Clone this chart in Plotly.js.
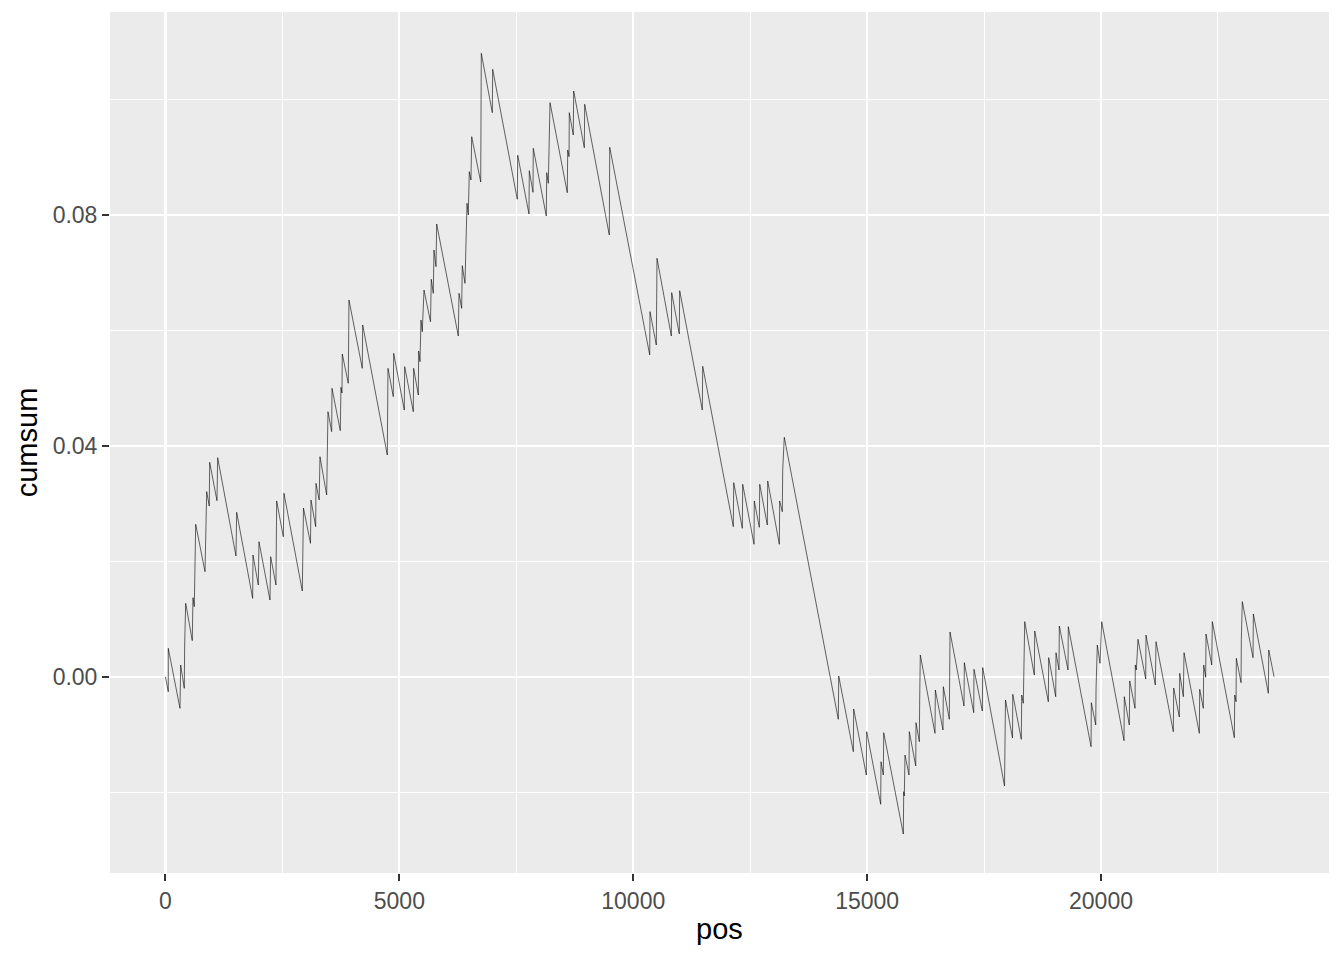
<!DOCTYPE html>
<html>
<head>
<meta charset="utf-8">
<script src="https://cdn.plot.ly/plotly-3.0.1.min.js"></script>
<style>html,body{margin:0;padding:0;background:#fff;}#chart{width:1344px;height:960px;}</style>
</head>
<body>
<div id="chart"></div>
<script>
const pos = [0,60,60,310,325,402,410,432,573,588,616,631,646,845,859,881,936,945,1101,1116,
1507,1522,1864,1871,1984,1999,2234,2249,2362,2369,2377,2519,2533,2925,2940,2950,3100,3111,3211,3218,
3286,3303,3446,3453,3474,3553,3560,3737,3752,3773,3780,3908,3917,3923,4207,4216,4742,4750,4757,4870,
4879,5105,5114,5298,5306,5405,5413,5441,5462,5490,5527,5665,5683,5725,5740,5783,5798,6260,6275,6332,
6345,6403,6424,6446,6474,6495,6531,6546,6739,6739,6745,6752,6987,6995,7521,7530,7771,7778,7857,7863,
8141,8150,8184,8199,8221,8590,8599,8627,8633,8718,8727,8954,8962,9488,9497,10352,10358,10493,10501,10508,
10814,10822,10984,10993,11476,11485,12139,12148,12332,12340,12582,12588,12695,12704,12866,12875,13123,13131,13187,13195,
13229,14384,14393,14705,14713,14983,14991,15290,15297,15346,15355,15774,15782,15795,15810,15895,15902,16039,16045,16116,
16124,16137,16451,16458,16622,16629,16757,16766,16772,17071,17078,17279,17285,17463,17471,17937,17948,17958,18108,18114,
18296,18305,18339,18354,18369,18574,18583,18874,18882,19032,19038,19102,19109,19295,19301,19787,19793,19887,19894,19921,
19979,20015,20492,20498,20605,20614,20727,20733,20755,20791,20956,20962,21161,21176,21546,21554,21674,21683,21760,21775,
22102,22110,22187,22196,22238,22245,22367,22380,22850,22859,22887,22893,22994,23000,23021,23250,23257,23577,23586,23699];
const cumsum = [0,-0.00255,0.00497,-0.00542,0.00208,-0.00196,0.00554,0.01276,0.00629,0.01373,0.01217,0.01969,0.02644,0.01823,0.02442,0.03209,0.02961,0.03718,0.03053,0.03797,
0.02095,0.02852,0.01363,0.02113,0.01593,0.02343,0.01333,0.02083,0.01593,0.02315,0.03048,0.02429,0.03181,0.01489,0.02234,0.02926,0.02315,0.03065,0.02603,0.03354,
0.03065,0.03815,0.03152,0.03896,0.04594,0.04248,0.04999,0.04265,0.05016,0.04918,0.05593,0.05086,0.05818,0.06528,0.05345,0.06095,0.03844,0.04594,0.05345,0.04854,
0.05605,0.04623,0.05373,0.04594,0.05345,0.04883,0.05645,0.0546,0.06182,0.05979,0.06701,0.06152,0.06887,0.06644,0.07394,0.07105,0.07844,0.05905,0.06644,0.06384,
0.07122,0.06817,0.0751,0.08203,0.08,0.0875,0.08606,0.09356,0.08571,0.09299,0.10048,0.108,0.09772,0.10523,0.08272,0.09034,0.08017,0.08767,0.08393,0.09155,
0.07983,0.08733,0.08549,0.09299,0.09945,0.08386,0.09126,0.0901,0.09772,0.09385,0.10147,0.09165,0.09917,0.07654,0.09172,0.05576,0.06326,0.05749,0.06499,0.0725,
0.05905,0.06655,0.0594,0.06689,0.04623,0.0538,0.02603,0.03365,0.02575,0.03337,0.02298,0.03048,0.02592,0.03337,0.02632,0.03394,0.02298,0.03048,0.02862,0.03584,
0.04151,-0.00732,0.00017,-0.01294,-0.00554,-0.01697,-0.00947,-0.02204,-0.01467,-0.01697,-0.00965,-0.02719,-0.01986,-0.0206,-0.01351,-0.01697,-0.00947,-0.01541,-0.00791,-0.0112,
-0.00369,0.00381,-0.00975,-0.00225,-0.00918,-0.00168,-0.00732,0.00017,0.00779,-0.00502,0.00248,-0.00618,0.00133,-0.00589,0.00161,-0.01887,-0.01138,-0.00398,-0.01056,-0.003,
-0.01079,-0.00312,-0.00455,0.00294,0.00958,0.00035,0.00797,-0.00428,0.00334,-0.00341,0.00421,0.00121,0.00883,0.00121,0.00871,-0.01207,-0.00445,-0.00831,-0.00196,0.00554,
0.00237,0.00958,-0.01103,-0.00341,-0.00831,-0.00069,-0.00542,0.00208,0.00121,0.00653,-0.00035,0.00727,-0.00139,0.00611,-0.00947,-0.0019,-0.00693,0.00064,-0.00341,0.00421,
-0.00975,-0.00213,-0.00542,0.00208,-0.00005,0.00745,0.00208,0.00958,-0.01051,-0.00312,-0.00428,0.00324,-0.00099,0.00653,0.01304,0.00334,0.01091,-0.00282,0.00468,0.00005];

const xTicks = [0, 5000, 10000, 15000, 20000];
const xTickText = ['0', '5000', '10000', '15000', '20000'];
const yTicks = [0, 0.04, 0.08];
const yTickText = ['0.00', '0.04', '0.08'];

const font = 'Liberation Sans, Arial, Helvetica, sans-serif';

const trace = {
  x: pos, y: cumsum, type: 'scatter', mode: 'lines',
  line: {color: '#000000', width: 0.6},
  hoverinfo: 'skip'
};

const layout = {
  width: 1344, height: 960,
  margin: {l: 110, r: 15, t: 12, b: 87},
  paper_bgcolor: '#FFFFFF',
  plot_bgcolor: '#EBEBEB',
  showlegend: false,
  xaxis: {
    range: [-1186, 24874],
    tickmode: 'array', tickvals: xTicks, ticktext: xTickText,
    showgrid: true, gridcolor: '#FFFFFF', gridwidth: 2.1,
    minor: {dtick: 2500, tick0: 0, showgrid: true, gridcolor: '#FFFFFF', gridwidth: 1.1, ticklen: 0},
    zeroline: false, showline: false,
    ticks: 'outside', ticklen: 7, tickwidth: 2, tickcolor: '#333333',
    tickfont: {family: font, size: 23, color: '#4D4D4D'},
    title: {text: 'pos', font: {family: font, size: 29, color: '#000000'}, standoff: 6},
    automargin: false
  },
  yaxis: {
    range: [-0.03394, 0.11515],
    tickmode: 'array', tickvals: yTicks, ticktext: yTickText,
    showgrid: true, gridcolor: '#FFFFFF', gridwidth: 2.1,
    minor: {dtick: 0.02, tick0: 0, showgrid: true, gridcolor: '#FFFFFF', gridwidth: 1.1, ticklen: 0},
    zeroline: false, showline: false,
    ticks: 'outside', ticklen: 7, tickwidth: 2, tickcolor: '#333333',
    tickfont: {family: font, size: 23, color: '#4D4D4D'},
    title: {text: 'cumsum', font: {family: font, size: 29, color: '#000000'}, standoff: 6},
    automargin: false
  }
};

Plotly.newPlot('chart', [trace], layout, {displayModeBar: false, staticPlot: true});
</script>
</body>
</html>
